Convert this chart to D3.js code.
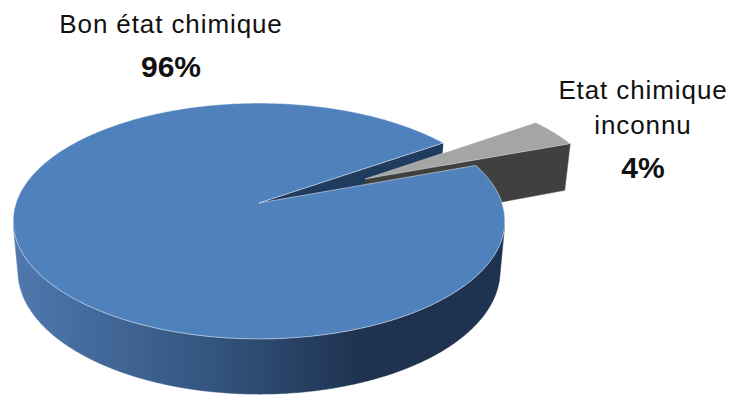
<!DOCTYPE html>
<html>
<head>
<meta charset="utf-8">
<script src="https://cdn.jsdelivr.net/npm/d3@7"></script>
<style>
  html, body { margin: 0; padding: 0; background: #ffffff; }
  svg { display: block; }
</style>
</head>
<body>
<script>
// ---- data ----
const categories = ["Bon état chimique", "Etat chimique inconnu"];
const values = [96, 4];
const labelLines = [["Bon état chimique"], ["Etat chimique", "inconnu"]];
const pctLabels = ["96%", "4%"];

// ---- layout / style ----
const W = 735, H = 396;
const colorsTop = ["#4f81bd", "#a5a5a5"];
const colorsRadial = ["#1f3b5e", "#404040"];
const explode = [0, 0.5];
const startDeg = 69.9;
const labelPos = [
  { x: 171, y: 33, py: 77 },
  { x: 643, y: 99, y2: 134, py: 178 }
];

// perspective camera
const cx = 259, cy = 203, f = 1402, D = 5.77;
const s = 0.474, c = Math.sqrt(1 - s * s);
const thick = 0.236;
const cam = [0, D * c];

function proj(u, v, y) {
  const Zc = D - v * c - y * s;
  return [cx + f * u / Zc, cy + f * (v * s - y * c) / Zc];
}
function rimUV(a, o) { return [o[0] + Math.sin(a), o[1] - Math.cos(a)]; }

const svg = d3.select("body").append("svg").attr("width", W).attr("height", H);
const defs = svg.append("defs");
const grad = defs.append("linearGradient").attr("id", "sideBlue")
  .attr("gradientUnits", "userSpaceOnUse").attr("x1", 15).attr("x2", 505).attr("y1", 0).attr("y2", 0);
[[0, "#4f78ae"], [0.4, "#33557f"], [0.7, "#1f3351"], [1, "#1f3250"]].forEach(([o, col]) =>
  grad.append("stop").attr("offset", o).attr("stop-color", col));

const pie = d3.pie().sort(null).value(d => d)
  .startAngle(startDeg * Math.PI / 180).endAngle(startDeg * Math.PI / 180 + 2 * Math.PI);
const arcs = pie(values);
const line = d3.line();

arcs.forEach((d, i) => {
  const mid = (d.startAngle + d.endAngle) / 2 + (i === 1 ? 0.03 : 0);
  d.off = [explode[i] * Math.sin(mid), -explode[i] * Math.cos(mid)];
});

function topPath(d) {
  const n = Math.max(4, Math.ceil((d.endAngle - d.startAngle) / 0.01));
  const pts = [proj(d.off[0], d.off[1], 0)];
  for (let k = 0; k <= n; k++) {
    const a = d.startAngle + (d.endAngle - d.startAngle) * k / n;
    const p = rimUV(a, d.off);
    pts.push(proj(p[0], p[1], 0));
  }
  return line(pts) + "Z";
}
function radialFace(d, a) {
  const p = rimUV(a, d.off);
  const pts = [proj(d.off[0], d.off[1], 0), proj(p[0], p[1], 0), proj(p[0], p[1], -thick), proj(d.off[0], d.off[1], -thick)];
  return line(pts) + "Z";
}
function radialVisible(d, a, sign) {
  const n = [sign * Math.cos(a), sign * Math.sin(a)];
  return (cam[0] - d.off[0]) * n[0] + (cam[1] - d.off[1]) * n[1] > 0;
}
function wallPaths(d) {
  const n = Math.ceil((d.endAngle - d.startAngle) / 0.01);
  const step = (d.endAngle - d.startAngle) / n;
  const runs = [];
  let cur = null;
  for (let k = 0; k < n; k++) {
    const m = d.startAngle + step * (k + 0.5);
    const p = rimUV(m, d.off);
    const nn = [Math.sin(m), -Math.cos(m)];
    const vis = (cam[0] - p[0]) * nn[0] + (cam[1] - p[1]) * nn[1] > 0;
    if (vis) { if (!cur) { cur = [k, k]; runs.push(cur); } else cur[1] = k; }
    else cur = null;
  }
  return runs.map(([k0, k1]) => {
    const a0 = d.startAngle + step * Math.max(0, k0 - 1);
    const a1 = d.startAngle + step * Math.min(n, k1 + 2);
    const m = Math.ceil((a1 - a0) / 0.01);
    const topPts = [], botPts = [];
    for (let j = 0; j <= m; j++) {
      const a = a0 + (a1 - a0) * j / m;
      const p = rimUV(a, d.off);
      topPts.push(proj(p[0], p[1], 0));
      botPts.push(proj(p[0], p[1], -thick));
    }
    return line(topPts.concat(botPts.reverse())) + "Z";
  });
}

const g = svg.append("g");
const big = arcs[0], small = arcs[1];

// 1. big slice radial faces
[[big.startAngle, -1], [big.endAngle, 1]].forEach(([a, sg]) => {
  if (radialVisible(big, a, sg))
    g.append("path").attr("d", radialFace(big, a)).attr("fill", colorsRadial[0]);
});
// 2. exploded slice
[[small.startAngle, -1], [small.endAngle, 1]].forEach(([a, sg]) => {
  if (radialVisible(small, a, sg))
    g.append("path").attr("d", radialFace(small, a)).attr("fill", colorsRadial[1])
      .attr("stroke", colorsRadial[1]).attr("stroke-width", 0.5);
});
wallPaths(small).forEach(p => g.append("path").attr("d", p).attr("fill", "#595959"));
g.append("path").attr("d", topPath(small)).attr("fill", colorsTop[1])
  .attr("stroke", "rgba(255,255,255,0.45)").attr("stroke-width", 0.8);
// 3. big slice wall and top
wallPaths(big).forEach(p => g.append("path").attr("d", p).attr("fill", "url(#sideBlue)")
  .attr("stroke", "url(#sideBlue)").attr("stroke-width", 0.5));
g.append("path").attr("d", topPath(big)).attr("fill", colorsTop[0])
  .attr("stroke", "rgba(255,255,255,0.55)").attr("stroke-width", 0.9).attr("stroke-linejoin", "round");

// ---- labels ----
const font = "'Liberation Sans', Arial, sans-serif";
const tg = svg.append("g").attr("fill", "#111").attr("font-family", font).attr("text-anchor", "middle");
labelPos.forEach((lp, i) => {
  labelLines[i].forEach((t, j) => {
    tg.append("text").attr("x", lp.x).attr("y", j === 0 ? lp.y : lp.y2)
      .attr("font-size", 26).attr("letter-spacing", 0.9).text(t);
  });
  tg.append("text").attr("x", lp.x).attr("y", lp.py)
    .attr("font-size", 30).attr("font-weight", "bold").text(pctLabels[i]);
});
</script>
</body>
</html>
